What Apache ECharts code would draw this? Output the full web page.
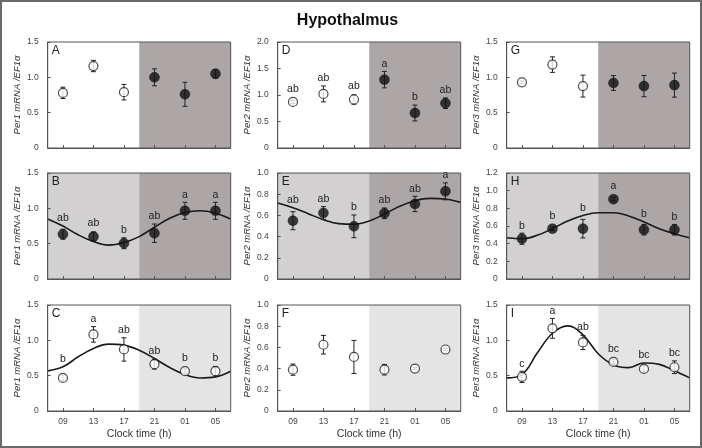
<!DOCTYPE html>
<html>
<head>
<meta charset="utf-8">
<script src="https://cdn.jsdelivr.net/npm/echarts@6/dist/echarts.min.js"></script>
<style>html,body{margin:0;padding:0;background:#fff}#c{width:702px;height:448px}</style>
</head>
<body>
<div id="c"></div>
<script>
// ---- data ----
const hourLabels = ['09', '13', '17', '21', '01', '05'];
const hourValues = [9, 13, 17, 21, 25, 29];
const fitHours = [7, 9, 11, 13, 15, 17, 19, 21, 23, 25, 27, 29, 31];

// Row 1 (LD)
const A_mean = [0.78, 1.16, 0.79, 1.00, 0.76, 1.05];
const A_se   = [0.08, 0.08, 0.11, 0.12, 0.17, 0.06];
const D_mean = [0.87, 1.02, 0.915, 1.29, 0.66, 0.845];
const D_se   = [0.03, 0.15, 0.09, 0.155, 0.15, 0.10];
const D_letters = ['ab', 'ab', 'ab', 'a', 'b', 'ab'];
const G_mean = [0.93, 1.18, 0.876, 0.92, 0.876, 0.89];
const G_se   = [0.02, 0.11, 0.155, 0.105, 0.15, 0.17];

// Row 2 (DD)
const B_mean = [0.634, 0.60, 0.506, 0.648, 0.965, 0.965];
const B_se   = [0.07, 0.065, 0.077, 0.13, 0.12, 0.12];
const B_letters = ['ab', 'ab', 'b', 'ab', 'a', 'a'];
const B_fit  = [0.85, 0.75, 0.625, 0.53, 0.48, 0.516, 0.60, 0.733, 0.86, 0.94, 0.965, 0.93, 0.85];
const E_mean = [0.55, 0.623, 0.497, 0.62, 0.708, 0.827];
const E_se   = [0.085, 0.06, 0.107, 0.05, 0.072, 0.08];
const E_letters = ['ab', 'ab', 'b', 'ab', 'ab', 'a'];
const E_fit  = [0.717, 0.673, 0.616, 0.56, 0.522, 0.516, 0.547, 0.613, 0.686, 0.739, 0.761, 0.755, 0.723];
const H_mean = [0.456, 0.57, 0.57, 0.904, 0.558, 0.558];
const H_se   = [0.063, 0.02, 0.105, 0.02, 0.06, 0.06];
const H_letters = ['b', 'b', 'b', 'a', 'b', 'b'];
const H_fit  = [0.467, 0.456, 0.494, 0.57, 0.657, 0.72, 0.75, 0.75, 0.714, 0.646, 0.57, 0.513, 0.467];

// Row 3 (LL)
const C_mean = [0.468, 1.084, 0.871, 0.663, 0.563, 0.563];
const C_se   = [0.04, 0.11, 0.165, 0.07, 0.035, 0.068];
const C_letters = ['b', 'a', 'ab', 'ab', 'b', 'b'];
const C_fit  = [0.568, 0.625, 0.767, 0.885, 0.946, 0.932, 0.86, 0.743, 0.615, 0.516, 0.468, 0.483, 0.563];
const F_mean = [0.39, 0.625, 0.51, 0.39, 0.40, 0.58];
const F_se   = [0.053, 0.088, 0.156, 0.05, 0.01, 0.01];
const I_mean = [0.483, 1.17, 0.97, 0.694, 0.595, 0.619];
const I_se   = [0.08, 0.14, 0.10, 0.04, 0.047, 0.09];
const I_letters = ['c', 'a', 'ab', 'bc', 'bc', 'bc'];
const I_fit  = [0.469, 0.516, 0.82, 1.10, 1.205, 1.078, 0.81, 0.652, 0.614, 0.68, 0.66, 0.57, 0.469];

// ---- layout / style ----
const DARK = '#aca6a7', LIGHT = '#d2d0d1', PALE = '#e4e4e4';
const FONT = 'Liberation Sans, Arial, sans-serif';
const lefts = [47.7, 277.7, 506.7], tops = [42, 173, 305], W = 183, H = 106;
const rowShades = [
  [[19, 31, DARK]],
  [[7, 19, LIGHT], [19, 31, DARK]],
  [[19, 31, PALE]]
];
const rowFill = ['mixed', 'filled', 'open'];

const panels = [
  {tag: 'A', row: 0, col: 0, gene: 'Per1', mean: A_mean, se: A_se, letters: null, fit: null, ymax: 1.5, yint: 0.5},
  {tag: 'D', row: 0, col: 1, gene: 'Per2', mean: D_mean, se: D_se, letters: D_letters, fit: null, ymax: 2.0, yint: 0.5},
  {tag: 'G', row: 0, col: 2, gene: 'Per3', mean: G_mean, se: G_se, letters: null, fit: null, ymax: 1.5, yint: 0.5},
  {tag: 'B', row: 1, col: 0, gene: 'Per1', mean: B_mean, se: B_se, letters: B_letters, fit: B_fit, ymax: 1.5, yint: 0.5},
  {tag: 'E', row: 1, col: 1, gene: 'Per2', mean: E_mean, se: E_se, letters: E_letters, fit: E_fit, ymax: 1.0, yint: 0.2},
  {tag: 'H', row: 1, col: 2, gene: 'Per3', mean: H_mean, se: H_se, letters: H_letters, fit: H_fit, ymax: 1.2, yint: 0.2},
  {tag: 'C', row: 2, col: 0, gene: 'Per1', mean: C_mean, se: C_se, letters: C_letters, fit: C_fit, ymax: 1.5, yint: 0.5},
  {tag: 'F', row: 2, col: 1, gene: 'Per2', mean: F_mean, se: F_se, letters: null, fit: null, ymax: 1.0, yint: 0.2},
  {tag: 'I', row: 2, col: 2, gene: 'Per3', mean: I_mean, se: I_se, letters: I_letters, fit: I_fit, ymax: 1.5, yint: 0.5}
];

const grid = [], xAxis = [], yAxis = [], series = [];
const graphic = [
  {type: 'rect', shape: {x: 1, y: 1, width: 700, height: 446}, style: {fill: 'none', stroke: '#6a6a6a', lineWidth: 2}, z: 100},
  {type: 'text', x: 347.5, y: 21, style: {text: 'Hypothalmus', font: 'bold 16px ' + FONT, fill: '#111', textAlign: 'center', textVerticalAlign: 'middle'}, z: 100}
];

panels.forEach((p, k) => {
  const left = lefts[p.col], top = tops[p.row];
  grid.push({left: left, top: top, width: W, height: H, show: true, z: 6,
    backgroundColor: 'transparent', borderColor: '#555', borderWidth: 1});
  const bottomRow = p.row === 2;
  xAxis.push({
    gridIndex: k, type: 'category', data: hourLabels, boundaryGap: true, z: 7,
    axisLine: {show: true, lineStyle: {color: '#555', width: 1}},
    axisTick: {show: true, inside: true, alignWithLabel: true, length: 3, lineStyle: {color: '#555'}},
    axisLabel: {show: bottomRow, fontSize: 8.5, color: '#444', margin: 6, fontFamily: FONT},
    splitLine: {show: false},
    name: bottomRow ? 'Clock time (h)' : '', nameLocation: 'middle', nameGap: 18,
    nameTextStyle: {fontSize: 10.5, color: '#333', fontFamily: FONT}
  });
  xAxis.push({gridIndex: k, type: 'value', min: 7, max: 31, show: false});
  yAxis.push({
    gridIndex: k, type: 'value', min: 0, max: p.ymax, interval: p.yint, z: 7,
    axisLine: {show: true, lineStyle: {color: '#555', width: 1}},
    axisTick: {show: true, inside: true, length: 3, lineStyle: {color: '#555'}},
    axisLabel: {fontSize: 8.5, color: '#444', margin: 9, fontFamily: FONT,
      formatter: v => (Math.abs(v) < 1e-9 ? '0' : v.toFixed(1))},
    splitLine: {show: false},
    name: p.gene + ' mRNA /EF1α', nameLocation: 'middle', nameGap: 25,
    nameTextStyle: {fontSize: 9.5, fontStyle: 'italic', color: '#333', fontFamily: FONT}
  });
  const xi = 2 * k + 1;
  // shading
  series.push({
    type: 'line', xAxisIndex: xi, yAxisIndex: k, data: [[7, 0], [31, 0]], symbol: 'none', silent: true,
    lineStyle: {opacity: 0}, z: 1,
    markArea: {silent: true, data: rowShades[p.row].map(s => [
      {xAxis: s[0], itemStyle: {color: s[2], opacity: 1}}, {xAxis: s[1]}
    ])}
  });
  // fitted curve
  if (p.fit) {
    series.push({
      type: 'line', xAxisIndex: xi, yAxisIndex: k, data: fitHours.map((h, i) => [h, p.fit[i]]),
      smooth: 0.4, symbol: 'none', silent: true, z: 3,
      lineStyle: {color: '#1a1a1a', width: 1.6}
    });
  }
  // error bars + letters
  const letters = p.letters, fit = p.fit;
  series.push({
    type: 'custom', xAxisIndex: xi, yAxisIndex: k, z: 4, silent: true,
    data: hourValues.map((h, i) => [h, p.mean[i], p.se[i], i]),
    renderItem: (params, api) => {
      const x = api.value(0), v = api.value(1), e = api.value(2), idx = api.value(3);
      const pt = api.coord([x, v + e]), pb = api.coord([x, v - e]), pc = api.coord([x, v]);
      const st = {stroke: '#222', lineWidth: 1};
      const ch = [
        {type: 'line', shape: {x1: pc[0], y1: pt[1], x2: pc[0], y2: pb[1]}, style: st},
        {type: 'line', shape: {x1: pc[0] - 2.5, y1: pt[1], x2: pc[0] + 2.5, y2: pt[1]}, style: st},
        {type: 'line', shape: {x1: pc[0] - 2.5, y1: pb[1], x2: pc[0] + 2.5, y2: pb[1]}, style: st}
      ];
      if (letters) {
        let y = Math.min(pt[1], pc[1] - 5.5);
        if (fit) y = Math.min(y, api.coord([x, fit[1 + 2 * idx]])[1]);
        ch.push({type: 'text', x: pc[0], y: y - 2, style: {text: letters[idx], font: '10.5px ' + FONT,
          fill: '#222', textAlign: 'center', textVerticalAlign: 'bottom'}});
      }
      return {type: 'group', children: ch};
    }
  });
  // points
  series.push({
    type: 'scatter', xAxisIndex: xi, yAxisIndex: k, z: 5, silent: true,
    data: hourValues.map((h, i) => {
      const filled = rowFill[p.row] === 'filled' || (rowFill[p.row] === 'mixed' && i >= 3);
      return {value: [h, p.mean[i]], symbolSize: filled ? 10 : 9,
        itemStyle: filled ? {color: '#111', borderColor: '#111', borderWidth: 0.5}
                          : {color: '#fff', borderColor: '#222', borderWidth: 1.2}};
    })
  });
  graphic.push({type: 'text', x: left + 4, y: top + 9,
    style: {text: p.tag, font: '12px ' + FONT, fill: '#222', textVerticalAlign: 'middle'}, z: 100});
});

const chart = echarts.init(document.getElementById('c'), null, {renderer: 'canvas'});
chart.setOption({
  animation: false,
  backgroundColor: '#fff',
  textStyle: {fontFamily: FONT},
  grid: grid, xAxis: xAxis, yAxis: yAxis, series: series, graphic: graphic
});
</script>
</body>
</html>
